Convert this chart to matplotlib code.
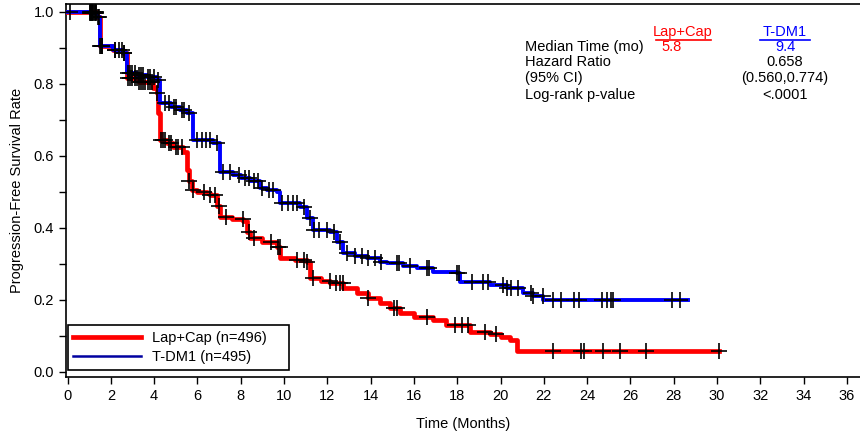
import numpy as np
import matplotlib
matplotlib.use("Agg")
import matplotlib.pyplot as plt
from matplotlib.lines import Line2D

plt.rcParams['font.family'] = ['Liberation Sans', 'DejaVu Sans']
fsz = 10.5

# Lap+Cap (red) : step times / survival after step
lap_t = [0, 1.35, 1.5, 2.1, 2.57, 2.75, 3.3, 3.96, 4.12, 4.2, 4.27, 4.6, 4.89, 5.35, 5.5,
         5.6, 5.74, 6.0, 6.43, 6.58, 6.9, 7.04, 7.6, 8.12, 8.3, 8.43, 9.0, 9.66, 9.82, 10.5,
         11.05, 11.2, 11.7, 12.12, 12.74, 13.36, 13.9, 14.43, 14.9, 15.36, 16.0, 16.88,
         17.5, 18.6, 19.5, 20.0, 20.45, 20.75]
lap_s = [1.0, 0.987, 0.904, 0.894, 0.885, 0.816, 0.805, 0.788, 0.774, 0.72, 0.644, 0.635,
         0.626, 0.612, 0.561, 0.53, 0.506, 0.50, 0.496, 0.492, 0.46, 0.431, 0.425, 0.418,
         0.39, 0.371, 0.360, 0.348, 0.316, 0.31, 0.306, 0.260, 0.253, 0.246, 0.232, 0.219,
         0.205, 0.191, 0.178, 0.163, 0.152, 0.144, 0.13, 0.112, 0.105, 0.098, 0.088, 0.059]
lap_end = 30.1
lap_cens = [1.05, 1.1, 1.15, 1.2, 1.25, 1.3, 1.45, 1.55, 1.6, 2.2, 2.4, 2.6, 2.8, 2.9, 3.0,
            3.1, 3.2, 3.3, 3.4, 3.5, 3.6, 3.7, 3.8, 3.9, 4.15, 4.3, 4.4, 4.5, 4.7, 4.8, 5.0,
            5.1, 5.3, 5.6, 5.8, 6.3, 6.6, 6.8, 7.0, 7.3, 8.1, 8.4, 8.6, 9.4, 9.7, 9.8, 10.6,
            10.9, 11.05, 11.35, 12.1, 12.4, 12.6, 12.7, 13.9, 15.1, 15.2, 16.6, 17.9, 18.2,
            18.5, 19.3, 19.8, 22.4, 23.7, 23.85, 24.75, 25.5, 26.7, 30.1]

# T-DM1 (blue)
tdm_t = [0, 1.04, 1.35, 1.5, 2.1, 2.57, 2.73, 3.2, 3.66, 4.12, 4.27, 4.8, 5.2, 5.5, 5.81,
         6.73, 7.04, 7.65, 8.0, 8.43, 8.89, 9.2, 9.67, 9.82, 10.74, 11.06, 11.35, 12.12,
         12.45, 12.73, 13.3, 13.83, 14.43, 14.75, 15.5, 16.14, 16.88, 17.98, 18.13, 19.5,
         20.28, 21.05, 21.5, 21.98]
tdm_s = [1.0, 0.996, 0.987, 0.904, 0.894, 0.885, 0.830, 0.826, 0.820, 0.811, 0.746, 0.736,
         0.728, 0.719, 0.644, 0.635, 0.556, 0.547, 0.54, 0.529, 0.511, 0.505, 0.501, 0.469,
         0.459, 0.427, 0.394, 0.390, 0.362, 0.330, 0.322, 0.316, 0.306, 0.302, 0.295, 0.288,
         0.279, 0.274, 0.251, 0.242, 0.232, 0.219, 0.21, 0.200]
tdm_end = 28.65
tdm_cens = [0.1, 1.05, 1.1, 1.15, 1.2, 1.25, 1.3, 1.4, 1.5, 1.6, 2.2, 2.5, 2.6, 2.8, 2.9,
            3.0, 3.1, 3.3, 3.4, 3.5, 3.7, 3.8, 4.0, 4.2, 4.5, 4.7, 4.9, 5.0, 5.3, 5.4, 5.6,
            6.0, 6.2, 6.4, 6.6, 6.9, 7.2, 7.5, 7.9, 8.2, 8.4, 8.6, 8.8, 9.0, 9.3, 9.5, 9.9,
            10.2, 10.4, 10.6, 10.9, 11.2, 11.4, 11.6, 12.0, 12.3, 12.6, 12.9, 13.3, 13.6,
            13.9, 14.2, 14.5, 15.2, 15.3, 15.8, 16.6, 16.7, 18.0, 18.1, 18.7, 19.2, 19.4,
            20.1, 20.3, 20.5, 20.8, 21.4, 21.5, 21.95, 22.4, 22.8, 23.4, 23.6, 24.7, 24.9,
            25.1, 25.2, 27.9, 28.3]

x_ticks = np.arange(0, 37, 2)
y_ticks = np.arange(0, 1.01, 0.2)


def surv_at(times, surv, c):
    idx = np.searchsorted(times, c, side='right') - 1
    return np.array(surv)[idx]


fig = plt.figure(figsize=(8.6, 4.38), dpi=100)
ax = fig.add_axes([66 / 860, 1 - 377 / 438, 1 - 66 / 860, 373 / 438])

# curves
ax.step(lap_t + [lap_end], lap_s + [lap_s[-1]], where='post', color='#ff0000', lw=3.4, zorder=3)
ax.step(tdm_t + [tdm_end], tdm_s + [tdm_s[-1]], where='post', color='#0000ff', lw=2.8, zorder=4)

# censor marks
ax.plot(lap_cens, surv_at(lap_t, lap_s, lap_cens), '+', color='k', ms=12, mew=1.2, zorder=5)
ax.plot(tdm_cens, surv_at(tdm_t, tdm_s, tdm_cens), '+', color='k', ms=12, mew=1.2, zorder=5)

ax.set_xlim(-0.07, 36.6)
ax.set_ylim(-0.014, 1.022)
ax.set_xticks(x_ticks)
ax.set_yticks(y_ticks)
ax.set_yticks(np.arange(0.1, 1.0, 0.2), minor=True)
ax.set_yticklabels(['%.1f' % v for v in y_ticks])
ax.tick_params(labelsize=fsz, length=5, width=1, color='k')
ax.tick_params(axis='y', which='minor', length=5, width=1)
ax.spines['right'].set_visible(False)
for sp in ['left', 'top', 'bottom']:
    ax.spines[sp].set_linewidth(1.2)

ax.set_xlabel('Time (Months)', fontsize=fsz, labelpad=10)
ax.set_ylabel('Progression-Free Survival Rate', fontsize=fsz, labelpad=7)

# stats table
ax.text(28.43, 0.945, 'Lap+Cap', color='#ff0000', fontsize=fsz, ha='center', va='center')
ax.text(33.14, 0.945, 'T-DM1', color='#0000ff', fontsize=fsz, ha='center', va='center')
ax.plot([27.2, 29.7], [0.922, 0.922], color='#ff0000', lw=1.2)
ax.plot([32.0, 34.3], [0.922, 0.922], color='#0000ff', lw=1.2)
rows = ['Median Time (mo)', 'Hazard Ratio', '(95% CI)', 'Log-rank p-value']
row_y = [0.903, 0.861, 0.817, 0.770]
for lab, yy in zip(rows, row_y):
    ax.text(21.13, yy, lab, fontsize=fsz, ha='left', va='center')
ax.text(27.9, 0.903, '5.8', color='#ff0000', fontsize=fsz, ha='center', va='center')
ax.text(33.14, 0.903, '9.4', color='#0000ff', fontsize=fsz, ha='center', va='center')
ax.text(33.14, 0.861, '0.658', fontsize=fsz, ha='center', va='center')
ax.text(33.14, 0.817, '(0.560,0.774)', fontsize=fsz, ha='center', va='center')
ax.text(33.14, 0.770, '<.0001', fontsize=fsz, ha='center', va='center')

handles = [Line2D([], [], color='#ff0000', lw=3.4),
           Line2D([], [], color='#0000a0', lw=1.8)]
leg = ax.legend(handles, ['Lap+Cap (n=496)    ', 'T-DM1 (n=495)'], loc='lower left',
                bbox_to_anchor=(0.002, 0.02), fontsize=fsz, fancybox=False,
                edgecolor='k', framealpha=1, handlelength=4.6, borderpad=0.4,
                labelspacing=0.3, borderaxespad=0)
leg.get_frame().set_linewidth(1.2)

fig.savefig('out.png', dpi=100)
